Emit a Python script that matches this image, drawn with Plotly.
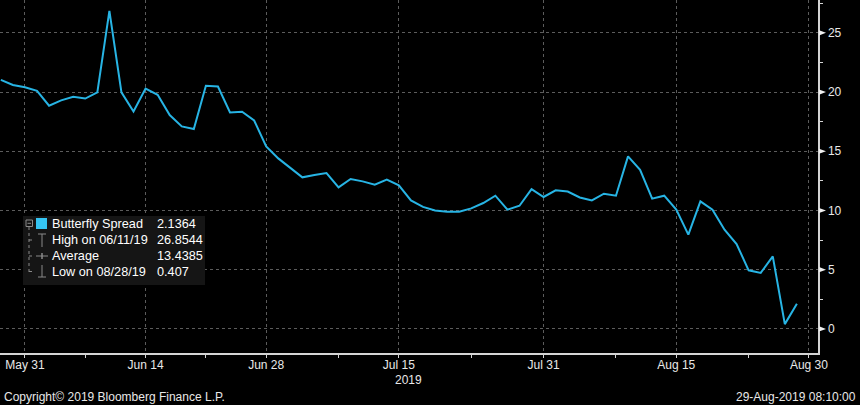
import plotly.graph_objects as go

# ---------------- data ----------------
dates = [
    "2019-05-29", "2019-05-30", "2019-05-31",
    "2019-06-03", "2019-06-04", "2019-06-05", "2019-06-06", "2019-06-07",
    "2019-06-10", "2019-06-11", "2019-06-12", "2019-06-13", "2019-06-14",
    "2019-06-17", "2019-06-18", "2019-06-19", "2019-06-20", "2019-06-21",
    "2019-06-24", "2019-06-25", "2019-06-26", "2019-06-27", "2019-06-28",
    "2019-07-01", "2019-07-02", "2019-07-03", "2019-07-04", "2019-07-05",
    "2019-07-08", "2019-07-09", "2019-07-10", "2019-07-11", "2019-07-12",
    "2019-07-15", "2019-07-16", "2019-07-17", "2019-07-18", "2019-07-19",
    "2019-07-22", "2019-07-23", "2019-07-24", "2019-07-25", "2019-07-26",
    "2019-07-29", "2019-07-30", "2019-07-31", "2019-08-01", "2019-08-02",
    "2019-08-05", "2019-08-06", "2019-08-07", "2019-08-08", "2019-08-09",
    "2019-08-12", "2019-08-13", "2019-08-14", "2019-08-15", "2019-08-16",
    "2019-08-19", "2019-08-20", "2019-08-21", "2019-08-22", "2019-08-23",
    "2019-08-26", "2019-08-27", "2019-08-28", "2019-08-29",
]
butterfly_spread = [
    21.03, 20.6, 20.4,
    20.1, 18.85, 19.3, 19.6, 19.45,
    19.97, 26.8544, 19.97, 18.36, 20.3,
    19.77, 18.06, 17.1, 16.88, 20.53,
    20.47, 18.28, 18.34, 17.6, 15.41,
    14.4, 13.6, 12.8, 13.0, 13.16,
    11.95, 12.66, 12.46, 12.18, 12.6,
    12.12, 10.85, 10.3, 10.0, 9.9,
    9.9, 10.18, 10.63, 11.25, 10.07,
    10.4, 11.81, 11.14, 11.7, 11.6,
    11.1, 10.85, 11.42, 11.25, 14.57,
    13.44, 11.0, 11.25, 10.07, 7.96,
    10.77, 10.07, 8.38, 7.17, 4.95,
    4.73, 6.13, 0.407, 2.1364,
]

x_tick_dates = ["2019-05-31", "2019-06-14", "2019-06-28", "2019-07-15",
                "2019-07-31", "2019-08-15", "2019-08-30"]
x_tick_labels = ["May 31", "Jun 14", "Jun 28", "Jul 15", "Jul 31", "Aug 15", "Aug 30"]
x_minor_dates = ["2019-06-07", "2019-06-21", "2019-07-08", "2019-07-23",
                 "2019-08-08", "2019-08-23"]
y_tick_values = [0, 5, 10, 15, 20, 25]
y_minor_values = [2.5, 7.5, 12.5, 17.5, 22.5, 27.5]

legend_rows = [
    ("Butterfly Spread", "2.1364"),
    ("High on 06/11/19", "26.8544"),
    ("Average", "13.4385"),
    ("Low on 08/28/19", "0.407"),
]

# ---------------- layout geometry ----------------
W, H = 860, 405
PW, PH = 818, 353          # plot area size in px (left=0, top=0)
Y_RANGE = [-2.03, 27.77]
X_RANGE = ["2019-05-28 22:20", "2019-08-30 18:00"]

LINE_COLOR = "#27b4e4"
GRID_COLOR = "#5c5c5c"
AXIS_COLOR = "#d4d4d4"
TEXT_COLOR = "#e8e8e8"
FONT = "Liberation Sans, Arial, sans-serif"


def px(x):
    return x / PW


def py(y):
    return 1 - y / PH


fig = go.Figure()
fig.add_trace(go.Scatter(
    x=dates, y=butterfly_spread, mode="lines",
    line=dict(color=LINE_COLOR, width=2),
    showlegend=False, hoverinfo="skip",
))

shapes = []
annotations = []

# right-axis triangle tick markers
for v in y_tick_values:
    shapes.append(dict(
        type="path", xref="paper", yref="y",
        path=f"M {px(819)},{v - 0.22} L {px(826)},{v} L {px(819)},{v + 0.22} Z",
        fillcolor="#f0f0f0", line=dict(width=0),
    ))

# legend box
shapes.append(dict(type="rect", xref="paper", yref="paper",
                   x0=px(23), x1=px(205), y0=py(216), y1=py(285),
                   fillcolor="#151515", line=dict(width=0), layer="above"))
# cyan square
shapes.append(dict(type="rect", xref="paper", yref="paper",
                   x0=px(36), x1=px(47), y0=py(218), y1=py(229),
                   fillcolor="#35c4f2", line=dict(width=0), layer="above"))
TREE = "#8a8a8a"
# collapse box (minus in square)
shapes.append(dict(type="rect", xref="paper", yref="paper",
                   x0=px(26), x1=px(32.5), y0=py(220), y1=py(226.5),
                   fillcolor="rgba(0,0,0,0)", line=dict(color=TREE, width=1), layer="above"))
shapes.append(dict(type="line", xref="paper", yref="paper",
                   x0=px(27.5), x1=px(31), y0=py(223.3), y1=py(223.3),
                   line=dict(color=TREE, width=1), layer="above"))
# tree vertical line
shapes.append(dict(type="line", xref="paper", yref="paper",
                   x0=px(29), x1=px(29), y0=py(227), y1=py(272),
                   line=dict(color=TREE, width=1, dash="dot"), layer="above"))
row_y = [224, 240, 256, 271.5]
for ry in row_y[1:]:
    shapes.append(dict(type="line", xref="paper", yref="paper",
                       x0=px(29), x1=px(35), y0=py(ry), y1=py(ry),
                       line=dict(color=TREE, width=1, dash="dot"), layer="above"))
# High icon "T"
shapes.append(dict(type="line", xref="paper", yref="paper",
                   x0=px(38), x1=px(46), y0=py(234), y1=py(234),
                   line=dict(color=TREE, width=1), layer="above"))
shapes.append(dict(type="line", xref="paper", yref="paper",
                   x0=px(42), x1=px(42), y0=py(234), y1=py(247),
                   line=dict(color=TREE, width=1), layer="above"))
# Average icon "+"
shapes.append(dict(type="line", xref="paper", yref="paper",
                   x0=px(36), x1=px(48), y0=py(256), y1=py(256),
                   line=dict(color=TREE, width=1), layer="above"))
shapes.append(dict(type="line", xref="paper", yref="paper",
                   x0=px(42), x1=px(42), y0=py(253), y1=py(259),
                   line=dict(color=TREE, width=1.5), layer="above"))
# Low icon "⊥"
shapes.append(dict(type="line", xref="paper", yref="paper",
                   x0=px(42), x1=px(42), y0=py(265), y1=py(277),
                   line=dict(color=TREE, width=1), layer="above"))
shapes.append(dict(type="line", xref="paper", yref="paper",
                   x0=px(38), x1=px(46), y0=py(277), y1=py(277),
                   line=dict(color=TREE, width=1), layer="above"))

for (label, val), ry in zip(legend_rows, row_y):
    annotations.append(dict(xref="paper", yref="paper", x=px(50), y=py(ry),
                            text=label, showarrow=False, xanchor="left", yanchor="middle",
                            font=dict(family=FONT, size=12.7, color="#ffffff")))
    annotations.append(dict(xref="paper", yref="paper", x=px(155), y=py(ry),
                            text=val, showarrow=False, xanchor="left", yanchor="middle",
                            font=dict(family=FONT, size=12.7, color="#ffffff")))

# year label under Jul 15
annotations.append(dict(xref="paper", yref="paper", x=px(424), y=py(380),
                        text="2019", showarrow=False, xanchor="right", yanchor="middle",
                        font=dict(family=FONT, size=12, color=TEXT_COLOR)))
# footer
annotations.append(dict(xref="paper", yref="paper", x=px(2), y=py(397),
                        text="Copyright\u00a9 2019 Bloomberg Finance L.P.", showarrow=False,
                        xanchor="left", yanchor="middle",
                        font=dict(family=FONT, size=12, color=TEXT_COLOR)))
annotations.append(dict(xref="paper", yref="paper", x=px(858), y=py(397),
                        text="29-Aug-2019 08:10:00", showarrow=False,
                        xanchor="right", yanchor="middle",
                        font=dict(family=FONT, size=12, color=TEXT_COLOR)))

fig.update_layout(
    width=W, height=H,
    margin=dict(l=0, r=W - PW, t=0, b=H - PH, pad=0),
    paper_bgcolor="#000000", plot_bgcolor="#000000",
    font=dict(family=FONT, size=12, color=TEXT_COLOR),
    showlegend=False,
    shapes=shapes, annotations=annotations,
    xaxis=dict(
        type="date", range=X_RANGE,
        rangebreaks=[dict(bounds=["sat", "mon"])],
        tickmode="array", tickvals=x_tick_dates, ticktext=x_tick_labels,
        showgrid=True, gridcolor=GRID_COLOR, griddash="dot", gridwidth=1,
        showline=True, linecolor=AXIS_COLOR, linewidth=1.5,
        ticks="outside", ticklen=3, tickcolor=AXIS_COLOR, tickwidth=1,
        ticklabelstandoff=-3,
        minor=dict(tickmode="array", tickvals=x_minor_dates, ticks="outside",
                   ticklen=3, tickcolor=AXIS_COLOR, showgrid=False),
        tickfont=dict(family=FONT, size=12, color=TEXT_COLOR),
        zeroline=False, fixedrange=True,
    ),
    yaxis=dict(
        side="right", range=Y_RANGE,
        tickmode="array", tickvals=y_tick_values,
        ticktext=[str(v) for v in y_tick_values],
        showgrid=True, gridcolor=GRID_COLOR, griddash="dot", gridwidth=1,
        showline=True, linecolor=AXIS_COLOR, linewidth=1.5,
        ticks="", ticklabelstandoff=6,
        minor=dict(tickmode="array", tickvals=y_minor_values, ticks="outside",
                   ticklen=3, tickcolor=AXIS_COLOR, showgrid=False),
        tickfont=dict(family=FONT, size=12, color=TEXT_COLOR),
        zeroline=False, fixedrange=True,
    ),
)

fig.write_html(
    "out.html",
    config={"displayModeBar": False, "staticPlot": True},
    post_script="document.body.style.margin='0';document.body.style.background='#000';",
)
